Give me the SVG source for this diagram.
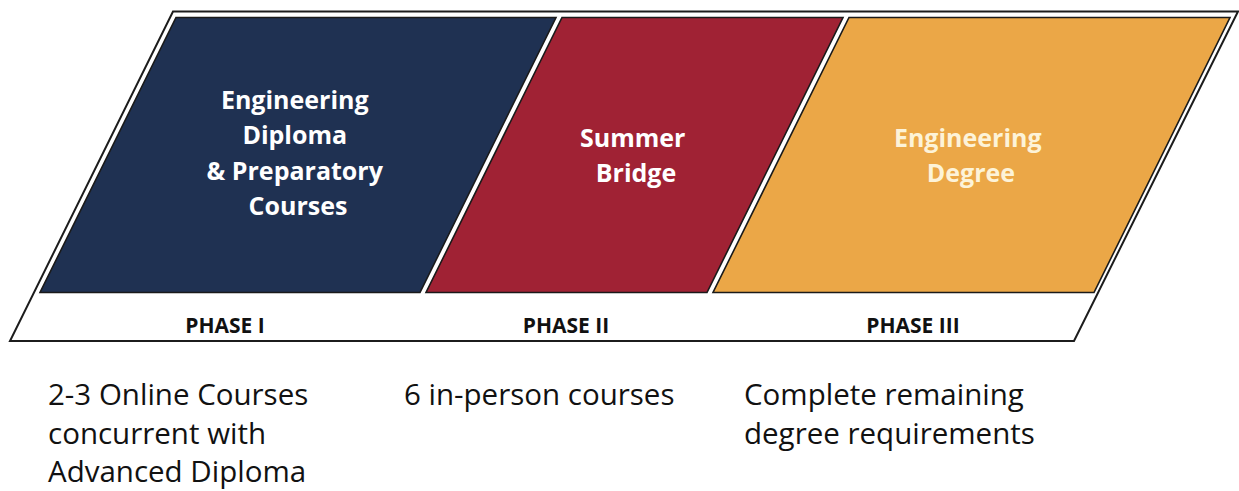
<svg xmlns="http://www.w3.org/2000/svg" width="1239" height="491" viewBox="0 0 1239 491">
  <style>
    .band { fill: #ffffff; stroke: #1c1c1c; stroke-width: 2; stroke-linejoin: miter; }
    .phase { stroke: #1a1a1a; stroke-width: 1.6; stroke-linejoin: miter; }
    .title { font-family: "Open Sans", "Liberation Sans", sans-serif; font-weight: 700; font-size: 25px; text-anchor: middle; }
    .label { font-family: "Open Sans", "Liberation Sans", sans-serif; font-weight: 700; font-size: 21px; text-anchor: middle; fill: #111111; }
    .note { font-family: "Open Sans", "Liberation Sans", sans-serif; font-weight: 400; font-size: 29.5px; fill: #111111; }
  </style>
  <rect width="1239" height="491" fill="#ffffff"/>

  <!-- outer slanted band holding the three phases and their labels -->
  <g id="band">
    <polygon class="band" points="173,11.5 1238,11.5 1074,341 10,341"/>
  </g>

  <!-- phase I -->
  <g id="phase1">
    <polygon class="phase" fill="#1f3152" points="176,17.5 556,17.5 420,292.5 40,292.5"/>
    <text class="title" fill="#ffffff">
      <tspan x="298" y="108.5">Engineering</tspan>
      <tspan x="298" y="144">Diploma</tspan>
      <tspan x="298" y="179.5">&amp; Preparatory</tspan>
      <tspan x="298" y="215">Courses</tspan>
    </text>
    <text class="label" x="225" y="333">PHASE I</text>
  </g>

  <!-- phase II -->
  <g id="phase2">
    <polygon class="phase" fill="#a02234" points="562,17.5 843,17.5 707,292.5 426,292.5"/>
    <text class="title" fill="#ffffff">
      <tspan x="636" y="146.5">Summer</tspan>
      <tspan x="636" y="181.5">Bridge</tspan>
    </text>
    <text class="label" x="566" y="333">PHASE II</text>
  </g>

  <!-- phase III -->
  <g id="phase3">
    <polygon class="phase" fill="#eba747" points="849,17.5 1230,17.5 1094,292.5 713,292.5"/>
    <text class="title" fill="#fdf3d8">
      <tspan x="971" y="146.5">Engineering</tspan>
      <tspan x="971" y="181.5">Degree</tspan>
    </text>
    <text class="label" x="913" y="333">PHASE III</text>
  </g>

  <!-- notes under each phase -->
  <g id="note1">
    <text class="note">
      <tspan x="48" y="405">2-3 Online Courses</tspan>
      <tspan x="48" y="443.5">concurrent with</tspan>
      <tspan x="48" y="482">Advanced Diploma</tspan>
    </text>
  </g>
  <g id="note2">
    <text class="note" x="404" y="405">6 in-person courses</text>
  </g>
  <g id="note3">
    <text class="note">
      <tspan x="744" y="405">Complete remaining</tspan>
      <tspan x="744" y="443.5">degree requirements</tspan>
    </text>
  </g>

  <!-- no connectors in this figure -->
  <g id="connectors"/>
</svg>
